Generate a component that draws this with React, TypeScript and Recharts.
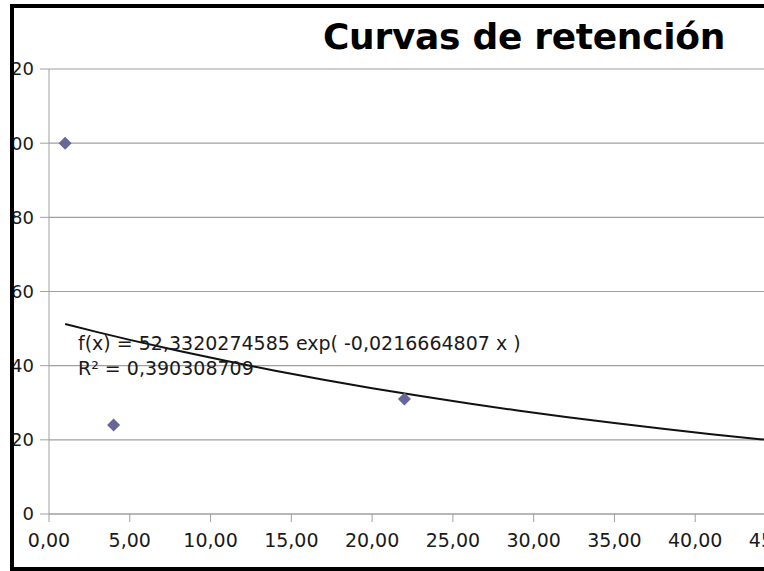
import React from 'react'
import { ScatterChart, Scatter, XAxis, YAxis, CartesianGrid } from 'recharts'

// measured points (time, retention)
const tiempos = [1, 4, 22]
const retencion = [100, 24, 31]

// exponential fit reported by the spreadsheet
const coefA = 52.3320274585
const coefB = -0.0216664807
const r2 = 0.390308709
const trendX = [1, 3, 5, 8, 11, 14, 17, 20, 23, 26, 29, 32, 35, 38, 41, 44, 45]

const xTicks = [0, 5, 10, 15, 20, 25, 30, 35, 40, 45]
const yTicks = [0, 20, 40, 60, 80, 100, 120]

const puntos = tiempos.map((t, i) => ({ x: t, y: retencion[i] }))
const tendencia = trendX.map((t) => ({ x: t, y: coefA * Math.exp(coefB * t) }))

const fmt = (v: number) => v.toFixed(2).replace('.', ',')
const fmtCoef = (v: number, d: number) => v.toFixed(d).replace('.', ',')

const FONT = '"DejaVu Sans", sans-serif'
const GRID = '#a0a0a0'
const INK = '#1a1a1a'

const Diamond = (props: any) => {
  const { cx, cy } = props
  const r = 6.5
  return (
    <polygon
      points={`${cx},${cy - r} ${cx + r},${cy} ${cx},${cy + r} ${cx - r},${cy}`}
      fill="#666699"
    />
  )
}

const NoDot = () => null

export default function App() {
  return (
    <div style={{ position: 'fixed', left: 0, top: 0, width: 764, height: 571, overflow: 'hidden', background: '#fff' }}>
      <div
        style={{
          position: 'absolute',
          left: 10,
          top: 4,
          width: 820,
          height: 567,
          border: '4px solid #000',
          boxSizing: 'border-box',
          overflow: 'hidden',
        }}
      >
        <div style={{ position: 'absolute', left: -14, top: -8, width: 840, height: 571 }}>
          <ScatterChart
            width={840}
            height={571}
            margin={{ top: 69, right: 840 - 776, bottom: 0, left: 0 }}
            style={{ fontFamily: FONT }}
          >
            <CartesianGrid horizontal vertical={false} stroke={GRID} strokeWidth={1.2} />
            <XAxis
              type="number"
              dataKey="x"
              domain={[0, 45]}
              ticks={xTicks}
              tickFormatter={fmt}
              allowDataOverflow
              height={57}
              tickSize={8}
              tickMargin={12}
              stroke={GRID}
              tick={{ fill: INK, fontSize: 19 }}
            />
            <YAxis
              type="number"
              dataKey="y"
              domain={[0, 120]}
              ticks={yTicks}
              width={49}
              tickSize={9}
              tickMargin={6}
              stroke={GRID}
              tick={{ fill: INK, fontSize: 18 }}
            />
            <Scatter
              data={tendencia}
              line={{ stroke: '#111', strokeWidth: 2 }}
              lineType="joint"
              shape={NoDot}
              isAnimationActive={false}
            />
            <Scatter data={puntos} shape={Diamond} isAnimationActive={false} />
          </ScatterChart>
          <div
            style={{
              position: 'absolute',
              left: 524 - 300,
              width: 600,
              top: 15,
              textAlign: 'center',
              fontFamily: FONT,
              fontWeight: 'bold',
              fontSize: 36,
              letterSpacing: -0.3,
              lineHeight: '44px',
              color: '#000',
            }}
          >
            Curvas de retención
          </div>
          <div
            style={{
              position: 'absolute',
              left: 78,
              top: 331,
              fontFamily: FONT,
              fontSize: 19,
              lineHeight: '25px',
              color: INK,
              whiteSpace: 'pre',
            }}
          >
            {`f(x) = ${fmtCoef(coefA, 10)} exp( ${fmtCoef(coefB, 10)} x )`}
            <br />
            {`R² = ${fmtCoef(r2, 9)}`}
          </div>
        </div>
      </div>
    </div>
  )
}
